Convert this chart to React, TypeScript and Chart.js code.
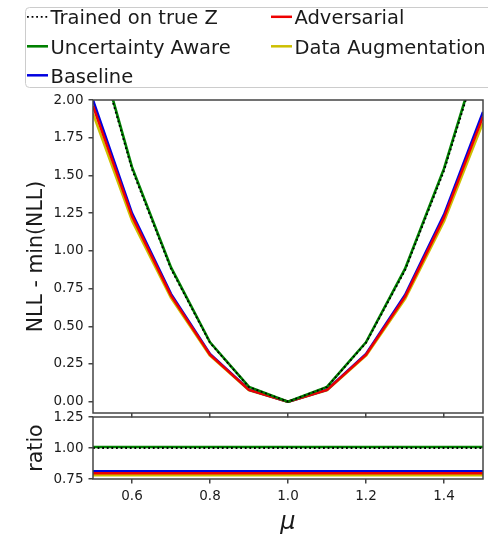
import React, { useEffect, useRef } from 'react';
import { Chart, registerables } from 'chart.js';

Chart.register(...registerables);

// Shift of the location parameter
const MU = [0.5, 0.6, 0.7, 0.8, 0.9, 1.0, 1.1, 1.2, 1.3, 1.4, 1.5];

// NLL - min(NLL) per training method
const TRUE_Z = [2.45, 1.54, 0.88, 0.39, 0.097, 0.0, 0.097, 0.39, 0.87, 1.53, 2.37];
const UNCERTAINTY = [2.47, 1.555, 0.89, 0.394, 0.098, 0.0, 0.098, 0.394, 0.88, 1.545, 2.39];
const BASELINE = [2.0, 1.25, 0.715, 0.317, 0.079, 0.0, 0.079, 0.317, 0.707, 1.24, 1.92];
const ADVERSARIAL = [1.96, 1.23, 0.703, 0.311, 0.078, 0.0, 0.078, 0.311, 0.695, 1.22, 1.89];
const DATA_AUG = [1.91, 1.2, 0.688, 0.305, 0.076, 0.0, 0.076, 0.305, 0.68, 1.195, 1.85];

// Curvature ratio relative to the model trained on the true Z
const RATIO_TRUE_Z = [1.0, 1.0, 1.0, 1.0, 1.0, 1.0, 1.0, 1.0, 1.0, 1.0, 1.0];
const RATIO_UNCERTAINTY = [1.008, 1.008, 1.008, 1.008, 1.008, 1.008, 1.008, 1.008, 1.008, 1.008, 1.008];
const RATIO_BASELINE = [0.812, 0.812, 0.812, 0.812, 0.812, 0.812, 0.812, 0.812, 0.812, 0.812, 0.812];
const RATIO_ADVERSARIAL = [0.797, 0.797, 0.797, 0.797, 0.797, 0.797, 0.797, 0.797, 0.797, 0.797, 0.797];
const RATIO_DATA_AUG = [0.78, 0.78, 0.78, 0.78, 0.78, 0.78, 0.78, 0.78, 0.78, 0.78, 0.78];

// Tick labels
const X_TICKS = [0.6, 0.8, 1.0, 1.2, 1.4];
const NLL_TICKS = [0, 0.25, 0.5, 0.75, 1.0, 1.25, 1.5, 1.75, 2.0];
const RATIO_TICKS = [0.75, 1.0, 1.25];

const FONT = "'DejaVu Sans', 'Liberation Sans', sans-serif";
const AXIS_COLOR = '#444';
const TEXT_COLOR = '#1a1a1a';

const STYLES = {
  trueZ: { label: 'Trained on true Z', color: '#000000', width: 1.8, dash: [1.8, 2.8], order: 0 },
  uncertainty: { label: 'Uncertainty Aware', color: '#008000', width: 2.6, dash: [], order: 1 },
  baseline: { label: 'Baseline', color: '#0000e0', width: 2.5, dash: [], order: 3 },
  adversarial: { label: 'Adversarial', color: '#ee0000', width: 2.5, dash: [], order: 2 },
  dataAug: { label: 'Data Augmentation', color: '#cdbf00', width: 2.5, dash: [], order: 4 },
};

type StyleKey = keyof typeof STYLES;

function series(key: StyleKey, values: number[]) {
  const s = STYLES[key];
  return {
    label: s.label,
    data: MU.map((x, i) => ({ x, y: values[i] })),
    borderColor: s.color,
    backgroundColor: s.color,
    borderWidth: s.width,
    borderDash: s.dash,
    order: s.order,
    fill: false,
    clip: 0,
  };
}

// Draws the full box (all four spines) around the plotting area
const framePlugin = {
  id: 'frame',
  afterDatasetsDraw(chart: any) {
    const { ctx, chartArea: a } = chart;
    ctx.save();
    ctx.strokeStyle = AXIS_COLOR;
    ctx.lineWidth = 1.5;
    ctx.strokeRect(a.left, a.top, a.right - a.left, a.bottom - a.top);
    ctx.restore();
  },
};

// Two-column legend laid out column by column above the plot
const legendPlugin = {
  id: 'columnLegend',
  afterDraw(chart: any) {
    const ctx = chart.ctx;
    ctx.save();
    ctx.fillStyle = 'rgba(255,255,255,0.9)';
    ctx.strokeStyle = '#cccccc';
    ctx.lineWidth = 1;
    ctx.beginPath();
    ctx.roundRect(25.5, 7.5, 480, 80, 4);
    ctx.fill();
    ctx.stroke();

    const columns: StyleKey[][] = [
      ['trueZ', 'uncertainty', 'baseline'],
      ['adversarial', 'dataAug'],
    ];
    const colX = [27, 271];
    const baselines = [24, 53.5, 82.5];
    ctx.font = `19.5px ${FONT}`;
    ctx.textBaseline = 'alphabetic';
    ctx.textAlign = 'left';
    columns.forEach((col, ci) => {
      col.forEach((key, ri) => {
        const s = STYLES[key];
        const y = baselines[ri] - 7.2;
        const x0 = colX[ci];
        ctx.beginPath();
        ctx.strokeStyle = s.color;
        ctx.lineWidth = s.width;
        ctx.setLineDash(s.dash);
        ctx.moveTo(x0, y);
        ctx.lineTo(x0 + 21, y);
        ctx.stroke();
        ctx.setLineDash([]);
        ctx.fillStyle = TEXT_COLOR;
        ctx.fillText(s.label, x0 + 23.5, baselines[ri]);
      });
    });
    ctx.restore();
  },
};

const gridTicks = {
  drawOnChartArea: false,
  drawTicks: true,
  tickLength: 4.5,
  color: AXIS_COLOR,
  lineWidth: 1.5,
};

function setTicks(values: number[]) {
  return (scale: any) => {
    scale.ticks = values.map((v) => ({ value: v }));
  };
}

// Pin an axis box to a fixed size and drop the label overhang padding
function fixHeight(h: number) {
  return (s: any) => {
    s.height = h;
    s.paddingLeft = 0;
    s.paddingRight = 0;
    s.paddingTop = 0;
    s.paddingBottom = 0;
  };
}

function fixWidth(w: number) {
  return (s: any) => {
    s.width = w;
    s.paddingLeft = 0;
    s.paddingRight = 0;
    s.paddingTop = 0;
    s.paddingBottom = 0;
  };
}

export default function App() {
  const mainRef = useRef<HTMLCanvasElement>(null);
  const ratioRef = useRef<HTMLCanvasElement>(null);

  useEffect(() => {
    const common = {
      responsive: false,
      animation: false as const,
      devicePixelRatio: 1,
      events: [] as any[],
      elements: {
        point: { radius: 0, hoverRadius: 0 },
        line: { tension: 0, borderCapStyle: 'butt' as const, borderJoinStyle: 'round' as const },
      },
    };

    const main = new Chart(mainRef.current!, {
      type: 'line',
      data: {
        datasets: [
          series('trueZ', TRUE_Z),
          series('uncertainty', UNCERTAINTY),
          series('baseline', BASELINE),
          series('adversarial', ADVERSARIAL),
          series('dataAug', DATA_AUG),
        ],
      },
      options: {
        ...common,
        layout: { padding: { top: 100, right: 5, left: 0, bottom: 0 } },
        plugins: { legend: { display: false }, tooltip: { enabled: false } },
        scales: {
          x: {
            type: 'linear',
            min: 0.5,
            max: 1.5,
            afterBuildTicks: setTicks(X_TICKS),
            ticks: { display: false },
            grid: gridTicks,
            border: { display: false },
            afterFit: fixHeight(7),
          },
          y: {
            type: 'linear',
            min: -0.075,
            max: 2.0,
            afterBuildTicks: setTicks(NLL_TICKS),
            ticks: {
              font: { family: FONT, size: 13.5 },
              color: TEXT_COLOR,
              padding: 5,
              callback: (v: any) => Number(v).toFixed(2),
            },
            grid: gridTicks,
            border: { display: false },
            title: {
              display: true,
              text: 'NLL - min(NLL)',
              color: TEXT_COLOR,
              font: { family: FONT, size: 20.5, lineHeight: 1 },
              padding: { top: 26, bottom: 0 },
            },
            afterFit: fixWidth(93),
          },
        },
      } as any,
      plugins: [framePlugin, legendPlugin],
    });

    const ratio = new Chart(ratioRef.current!, {
      type: 'line',
      data: {
        datasets: [
          series('trueZ', RATIO_TRUE_Z),
          series('uncertainty', RATIO_UNCERTAINTY),
          series('baseline', RATIO_BASELINE),
          series('adversarial', RATIO_ADVERSARIAL),
          series('dataAug', RATIO_DATA_AUG),
        ],
      },
      options: {
        ...common,
        layout: { padding: { top: 17, right: 5, left: 0, bottom: 0 } },
        plugins: { legend: { display: false }, tooltip: { enabled: false } },
        scales: {
          x: {
            type: 'linear',
            min: 0.5,
            max: 1.5,
            afterBuildTicks: setTicks(X_TICKS),
            ticks: {
              font: { family: FONT, size: 13.5 },
              color: TEXT_COLOR,
              padding: 5,
              maxRotation: 0,
              callback: (v: any) => Number(v).toFixed(1),
            },
            grid: gridTicks,
            border: { display: false },
            title: {
              display: true,
              text: 'μ',
              color: TEXT_COLOR,
              font: { family: FONT, size: 24, style: 'italic', lineHeight: 1 },
              padding: { top: 0, bottom: 2 },
            },
            afterFit: fixHeight(58),
          },
          y: {
            type: 'linear',
            min: 0.75,
            max: 1.25,
            afterBuildTicks: setTicks(RATIO_TICKS),
            ticks: {
              font: { family: FONT, size: 13.5 },
              color: TEXT_COLOR,
              padding: 5,
              callback: (v: any) => Number(v).toFixed(2),
            },
            grid: gridTicks,
            border: { display: false },
            title: {
              display: true,
              text: 'ratio',
              color: TEXT_COLOR,
              font: { family: FONT, size: 20.5, lineHeight: 1 },
              padding: { top: 26, bottom: 0 },
            },
            afterFit: fixWidth(93),
          },
        },
      } as any,
      plugins: [framePlugin],
    });

    return () => {
      main.destroy();
      ratio.destroy();
    };
  }, []);

  return (
    <div style={{ position: 'fixed', left: 0, top: 0, width: 488, height: 537, background: '#fff' }}>
      <canvas ref={mainRef} width={488} height={420} style={{ position: 'absolute', left: 0, top: 0 }} />
      <canvas ref={ratioRef} width={488} height={137} style={{ position: 'absolute', left: 0, top: 400 }} />
    </div>
  );
}
